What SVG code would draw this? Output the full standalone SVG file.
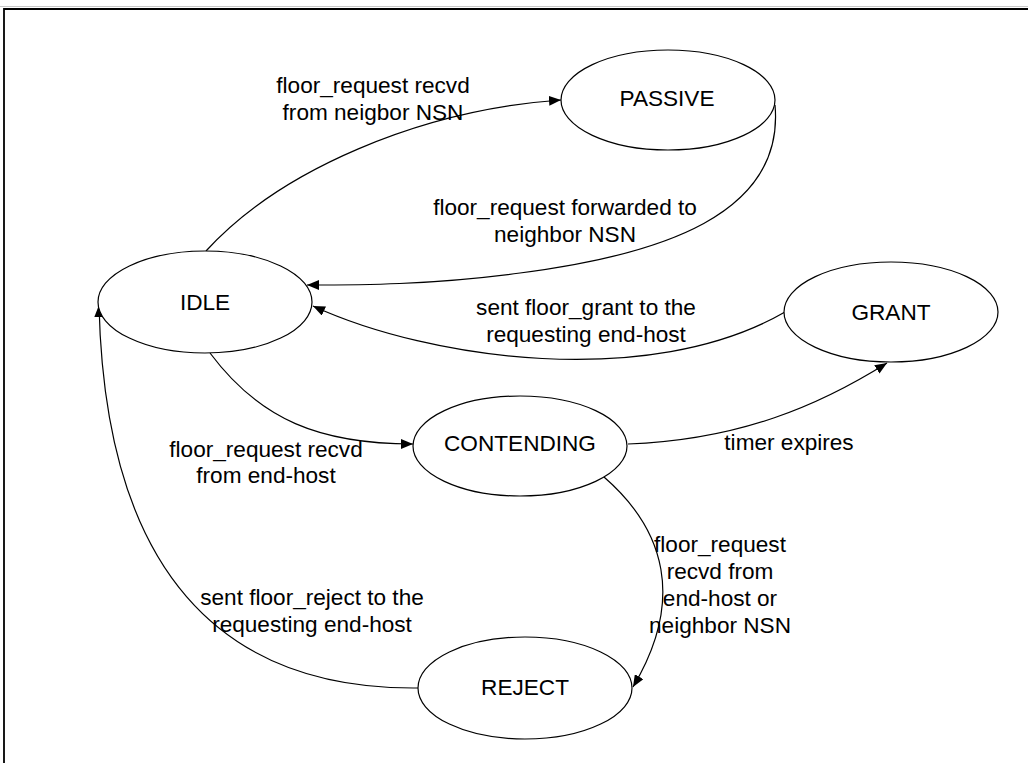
<svg xmlns="http://www.w3.org/2000/svg" width="1028" height="763" viewBox="0 0 1028 763">
  <defs>
    <marker id="arrow" viewBox="0 0 12 10" refX="12" refY="5" markerWidth="12" markerHeight="10" markerUnits="userSpaceOnUse" orient="auto">
      <path d="M0,0 L12,5 L0,10 Z" fill="#000"/>
    </marker>
  </defs>
  <style>
    .state { fill: #fff; stroke: #000; stroke-width: 1.2; }
    .name { font-family: "Liberation Sans", Arial, sans-serif; font-size: 22.6px; fill: #000; text-anchor: middle; }
    .label { font-family: "Liberation Sans", Arial, sans-serif; font-size: 22.6px; fill: #000; text-anchor: middle; }
    .edge { fill: none; stroke: #000; stroke-width: 1.2; marker-end: url(#arrow); }
  </style>
  <rect width="1028" height="763" fill="#fff"/>
  <!-- page frame -->
  <line x1="0" y1="6.5" x2="1028" y2="6.5" stroke="#c8c8c8" stroke-width="1"/>
  <path d="M4,763 L4,9 L1028,9" fill="none" stroke="#000" stroke-width="1.8"/>

  <g id="connectors">
    <path class="edge" d="M206,251 C280,170 420,110 561,100"/>
    <path class="edge" d="M775,105 C785,215 660,255 520,273 C430,285 360,285 307,285"/>
    <path class="edge" d="M785,312 C650,390 430,360 313,306"/>
    <path class="edge" d="M210,353 C260,420 320,444 413,444"/>
    <path class="edge" d="M628,444 C740,440 820,405 887,363"/>
    <path class="edge" d="M604,477 C665,530 685,600 633,687"/>
    <path class="edge" d="M418,688 C220,690 105,570 99,305"/>
  </g>

  <g id="labels">
    <text class="label" x="373" y="93">floor_request recvd</text>
    <text class="label" x="373" y="120">from neigbor NSN</text>
    <text class="label" x="565" y="215">floor_request forwarded to</text>
    <text class="label" x="565" y="242">neighbor NSN</text>
    <text class="label" x="586" y="315">sent floor_grant to the</text>
    <text class="label" x="586" y="342">requesting end-host</text>
    <text class="label" x="266" y="457">floor_request recvd</text>
    <text class="label" x="266" y="483">from end-host</text>
    <text class="label" x="789" y="450">timer expires</text>
    <text class="label" x="720" y="552">floor_request</text>
    <text class="label" x="720" y="579">recvd from</text>
    <text class="label" x="720" y="606">end-host or</text>
    <text class="label" x="720" y="633">neighbor NSN</text>
    <text class="label" x="312" y="605">sent floor_reject to the</text>
    <text class="label" x="312" y="632">requesting end-host</text>
  </g>

  <g id="node-passive">
    <ellipse class="state" cx="668" cy="100" rx="107" ry="50"/>
    <text class="name" x="667" y="106">PASSIVE</text>
  </g>
  <g id="node-idle">
    <ellipse class="state" cx="205" cy="302" rx="107" ry="51"/>
    <text class="name" x="205" y="310">IDLE</text>
  </g>
  <g id="node-grant">
    <ellipse class="state" cx="891" cy="312" rx="107" ry="50"/>
    <text class="name" x="891" y="320">GRANT</text>
  </g>
  <g id="node-contending">
    <ellipse class="state" cx="520" cy="446" rx="107" ry="50"/>
    <text class="name" x="520" y="451">CONTENDING</text>
  </g>
  <g id="node-reject">
    <ellipse class="state" cx="525" cy="688" rx="107" ry="51"/>
    <text class="name" x="525" y="695">REJECT</text>
  </g>
</svg>
